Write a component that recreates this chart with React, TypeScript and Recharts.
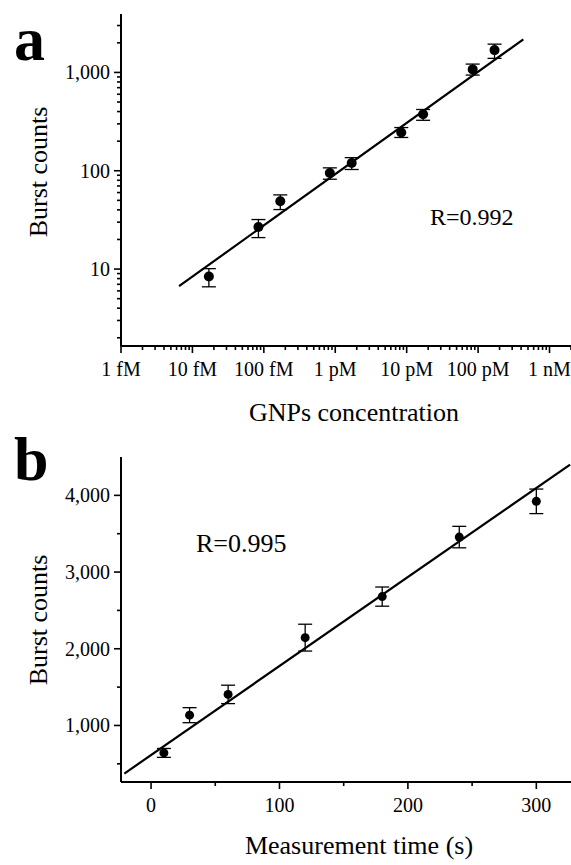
import React from "react";
import { ComposedChart, Scatter, Line, XAxis, YAxis, ErrorBar } from "recharts";

const FONT = "Liberation Serif, DejaVu Serif, serif";

// panel a: burst counts vs GNPs concentration (M), log-log
const concA = [1.7e-14, 8.4e-14, 1.7e-13, 8.4e-13, 1.7e-12, 8.4e-12, 1.7e-11, 8.4e-11, 1.7e-10];
const burstA = [8.4, 26.8, 48.9, 95, 120, 245, 376, 1074, 1687];
const errLowA = [1.8, 5.9, 8.6, 13, 17, 27, 50, 134, 297];
const errHighA = [1.7, 5.1, 7.9, 12, 16, 30, 44, 142, 253];
const fitConcA = [6.5e-15, 4.3e-10];
const fitBurstA = [6.7, 2170];
const concTicks = [1e-15, 1e-14, 1e-13, 1e-12, 1e-11, 1e-10, 1e-9];
const concLabels = ["1 fM", "10 fM", "100 fM", "1 pM", "10 pM", "100 pM", "1 nM"];
const burstTicksA = [10, 100, 1000];
const burstLabelsA = ["10", "100", "1,000"];

// panel b: burst counts vs measurement time (s)
const timeB = [10, 30, 60, 120, 180, 240, 300];
const burstB = [642, 1134, 1405, 2145, 2680, 3456, 3922];
const errB = [58, 98, 120, 175, 125, 140, 160];
const fitTimeB = [-20.8, 326.3];
const fitBurstB = [373, 4401];
const timeTicks = [0, 100, 200, 300];
const timeMinor = [50, 150, 250];
const burstTicksB = [1000, 2000, 3000, 4000];
const burstLabelsB = ["1,000", "2,000", "3,000", "4,000"];
const burstMinorB = [500, 1500, 2500, 3500];

const logMinor = (lo: number, hi: number) => {
  const out: number[] = [];
  for (let d = 1e-16; d < hi * 10; d *= 10) {
    for (let k = 1; k <= 9; k++) {
      const v = Number((k * d).toPrecision(3));
      if (v >= lo && v <= hi) out.push(v);
    }
  }
  return out;
};

const domainXA: [number, number] = [1e-15, 2e-9];
const domainYA: [number, number] = [1.65, 3930];
const xTicksA = logMinor(domainXA[0], domainXA[1]);
const yTicksA = logMinor(domainYA[0], domainYA[1]);

const dataA = concA.map((c, i) => ({ x: c, y: burstA[i], err: [errLowA[i], errHighA[i]] }));
const fitA = fitConcA.map((c, i) => ({ x: c, y: fitBurstA[i] }));
const dataB = timeB.map((t, i) => ({ x: t, y: burstB[i], err: errB[i] }));
const fitB = fitTimeB.map((t, i) => ({ x: t, y: fitBurstB[i] }));

const findIdx = (arr: number[], v: number) =>
  arr.findIndex((t) => (t === 0 ? v === 0 : Math.abs(t - v) <= Math.abs(t) * 1e-6));

const txt = { fontFamily: FONT, fill: "#000" };

const makeXTick = (majors: number[], labels: string[]) => (props: any) => {
  const { x, y, payload } = props;
  const idx = findIdx(majors, payload.value);
  const major = idx >= 0;
  return (
    <g>
      <line x1={x} x2={x} y1={y} y2={y + (major ? 7 : 4)} stroke="#000" strokeWidth={1.6} />
      {major && (
        <text x={x} y={y + 30} textAnchor="middle" fontSize={20} style={txt}>
          {labels[idx]}
        </text>
      )}
    </g>
  );
};

const makeYTick = (majors: number[], labels: string[]) => (props: any) => {
  const { x, y, payload } = props;
  const idx = findIdx(majors, payload.value);
  const major = idx >= 0;
  return (
    <g>
      <line x1={x} x2={x - (major ? 7 : 4)} y1={y} y2={y} stroke="#000" strokeWidth={1.6} />
      {major && (
        <text x={x - 11} y={y} dy="0.35em" textAnchor="end" fontSize={20} style={txt}>
          {labels[idx]}
        </text>
      )}
    </g>
  );
};

const XTickA = makeXTick(concTicks, concLabels);
const YTickA = makeYTick(burstTicksA, burstLabelsA);
const XTickB = makeXTick(timeTicks, timeTicks.map(String));
const YTickB = makeYTick(burstTicksB, burstLabelsB);

const dot = (r: number) => (p: any) => <circle cx={p.cx} cy={p.cy} r={r} fill="#000" />;

const axisLine = { stroke: "#000", strokeWidth: 2 };

const App = () => {
  return (
    <div style={{ position: "relative", width: 571, height: 865, background: "#fff" }}>
      <style>{"body{margin:0;background:#fff}"}</style>
      <div style={{ position: "absolute", left: 0, top: 0 }}>
        <ComposedChart width={571} height={430} margin={{ top: 14, right: 0, bottom: 0, left: 0 }}>
          <XAxis
            dataKey="x"
            type="number"
            scale="log"
            domain={domainXA}
            allowDataOverflow
            ticks={xTicksA}
            interval={0}
            tickSize={0}
            tickMargin={0}
            tickLine={false}
            tick={<XTickA />}
            axisLine={axisLine}
            height={84}
          />
          <YAxis
            dataKey="y"
            type="number"
            scale="log"
            domain={domainYA}
            allowDataOverflow
            ticks={yTicksA}
            interval={0}
            tickSize={0}
            tickMargin={0}
            tickLine={false}
            tick={<YTickA />}
            axisLine={axisLine}
            width={121}
          />
          <Line data={fitA} dataKey="y" stroke="#000" strokeWidth={2.2} dot={false} isAnimationActive={false} />
          <Scatter data={dataA} dataKey="y" shape={dot(5)} isAnimationActive={false}>
            <ErrorBar dataKey="err" direction="y" width={7} stroke="#000" strokeWidth={1.3} />
          </Scatter>
        </ComposedChart>
      </div>
      <div style={{ position: "absolute", left: 0, top: 430 }}>
        <ComposedChart width={571} height={435} margin={{ top: 27, right: 0, bottom: 0, left: 0 }}>
          <XAxis
            dataKey="x"
            type="number"
            domain={[-23.4, 327]}
            allowDataOverflow
            ticks={[...timeTicks, ...timeMinor].sort((a, b) => a - b)}
            interval={0}
            tickSize={0}
            tickMargin={0}
            tickLine={false}
            tick={<XTickB />}
            axisLine={axisLine}
            height={83}
          />
          <YAxis
            dataKey="y"
            type="number"
            domain={[263, 4500]}
            allowDataOverflow
            ticks={[...burstTicksB, ...burstMinorB].sort((a, b) => a - b)}
            interval={0}
            tickSize={0}
            tickMargin={0}
            tickLine={false}
            tick={<YTickB />}
            axisLine={axisLine}
            width={121}
          />
          <Line data={fitB} dataKey="y" stroke="#000" strokeWidth={2.2} dot={false} isAnimationActive={false} />
          <Scatter data={dataB} dataKey="y" shape={dot(4.5)} isAnimationActive={false}>
            <ErrorBar dataKey="err" direction="y" width={7} stroke="#000" strokeWidth={1.3} />
          </Scatter>
        </ComposedChart>
      </div>
      <svg
        width={571}
        height={865}
        style={{ position: "absolute", left: 0, top: 0, pointerEvents: "none" }}
      >
        <text x={14} y={60} fontSize={62} fontWeight="bold" style={txt}>a</text>
        <text x={14} y={480} fontSize={62} fontWeight="bold" style={txt}>b</text>
        <text transform="translate(47,172) rotate(-90)" textAnchor="middle" fontSize={26} style={txt}>Burst counts</text>
        <text transform="translate(47,620) rotate(-90)" textAnchor="middle" fontSize={26} style={txt}>Burst counts</text>
        <text x={354} y={421} textAnchor="middle" fontSize={26} style={txt}>GNPs concentration</text>
        <text x={359} y={854} textAnchor="middle" fontSize={26} style={txt}>Measurement time (s)</text>
        <text x={430} y={225} fontSize={24} style={txt}>R=0.992</text>
        <text x={196} y={552} fontSize={26} style={txt}>R=0.995</text>
      </svg>
    </div>
  );
};

export default App;
